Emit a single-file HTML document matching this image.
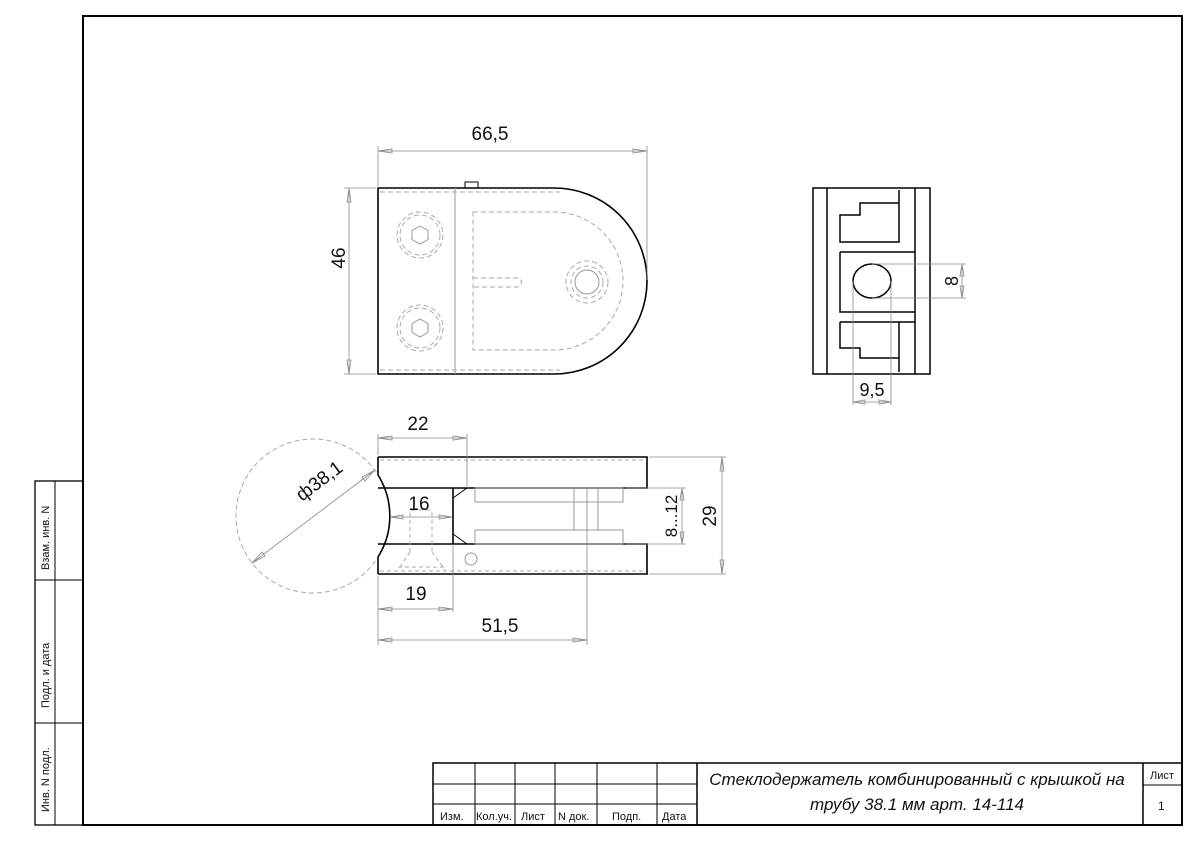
<!DOCTYPE html>
<html><head><meta charset="utf-8"><style>
html,body{margin:0;padding:0;background:#fff}
svg{display:block}
text{font-family:"Liberation Sans",sans-serif;fill:#111}
</style></head><body>
<svg width="1200" height="848" viewBox="0 0 1200 848" xmlns="http://www.w3.org/2000/svg">
<rect x="0" y="0" width="1200" height="848" fill="#fff"/>
<g fill="none" stroke="#000">
<rect x="83" y="16" width="1099" height="809" stroke-width="2"/>
<rect x="35" y="481" width="48" height="344" stroke-width="1.3"/>
<line x1="55" y1="481" x2="55" y2="825"/>
<line x1="35" y1="580" x2="83" y2="580"/>
<line x1="35" y1="723" x2="83" y2="723"/>
<!-- title block -->
<rect x="433" y="763" width="749" height="62" stroke-width="1.5"/>
<line x1="433" y1="784" x2="697" y2="784"/>
<line x1="433" y1="804" x2="697" y2="804"/>
<line x1="475" y1="763" x2="475" y2="825"/>
<line x1="515" y1="763" x2="515" y2="825"/>
<line x1="555" y1="763" x2="555" y2="825"/>
<line x1="597" y1="763" x2="597" y2="825"/>
<line x1="657" y1="763" x2="657" y2="825"/>
<line x1="697" y1="763" x2="697" y2="825" stroke-width="1.5"/>
<line x1="1143" y1="763" x2="1143" y2="825" stroke-width="1.5"/>
<line x1="1143" y1="785" x2="1182" y2="785"/>
</g>
<g font-size="11">
<text transform="translate(49,570) rotate(-90)">Взам. инв. N</text>
<text transform="translate(49,708) rotate(-90)">Подл. и дата</text>
<text transform="translate(49,812) rotate(-90)">Инв. N подл.</text>
<text x="440" y="820">Изм.</text>
<text x="476" y="820">Кол.уч.</text>
<text x="521" y="820">Лист</text>
<text x="558" y="820">N док.</text>
<text x="612" y="820">Подп.</text>
<text x="662" y="820">Дата</text>
<text x="1150" y="779">Лист</text>
<text x="1158" y="810" font-size="12">1</text>
</g>
<g font-size="17" font-style="italic" text-anchor="middle">
<text x="917" y="785">Стеклодержатель комбинированный с крышкой на</text>
<text x="917" y="810">трубу 38.1 мм арт. 14-114</text>
</g>

<!-- TOP VIEW -->
<g fill="none" stroke="#000" stroke-width="1.6">
<path d="M378,188 H554 A93,93 0 0 1 554,374 H378 Z"/>
<rect x="465" y="182" width="13" height="6" stroke-width="1"/>
</g>
<g fill="none" stroke="#999" stroke-width="1">
<line x1="455" y1="188" x2="455" y2="374"/>
<polygon points="420,226 428,230.5 428,239.5 420,244 412,239.5 412,230.5"/>
<polygon points="420,319 428,323.5 428,332.5 420,337 412,332.5 412,323.5"/>
<circle cx="587" cy="282" r="12"/>
</g>
<g fill="none" stroke="#aaa" stroke-width="1" stroke-dasharray="5,3">
<line x1="380" y1="192" x2="560" y2="192"/>
<line x1="380" y1="370" x2="560" y2="370"/>
<circle cx="420" cy="235" r="23"/><circle cx="420" cy="235" r="20"/>
<circle cx="420" cy="328" r="23"/><circle cx="420" cy="328" r="20"/>
<path d="M473,212 H554 A69,69 0 0 1 554,350 H473 Z"/>
<path d="M473,278 H517 A4.5,4.5 0 0 1 517,287 H473"/>
<circle cx="587" cy="282" r="16"/><circle cx="587" cy="282" r="21"/>
</g>
<!-- dims top -->
<g fill="none" stroke="#888" stroke-width="0.8">
<line x1="378" y1="186" x2="378" y2="146"/>
<line x1="647" y1="280" x2="647" y2="146"/>
<line x1="378" y1="151" x2="647" y2="151"/>
<polygon points="378,151 392,149 392,153"/><polygon points="647,151 633,149 633,153"/>
<line x1="376" y1="188" x2="344" y2="188"/>
<line x1="376" y1="374" x2="344" y2="374"/>
<line x1="349" y1="188" x2="349" y2="374"/>
<polygon points="349,188 347,202 351,202"/><polygon points="349,374 347,360 351,360"/>
</g>
<g font-size="19">
<text x="490" y="140" text-anchor="middle">66,5</text>
<text transform="translate(345,258) rotate(-90)" text-anchor="middle">46</text>
</g>

<!-- RIGHT VIEW -->
<g fill="none" stroke="#000" stroke-width="1.5">
<rect x="813" y="188" width="117" height="186"/>
<line x1="827" y1="188" x2="827" y2="374"/>
<line x1="915" y1="188" x2="915" y2="374"/>
<polyline points="899,190 899,242 840,242 840,215 860,215 860,203 899,203"/>
<polyline points="840,252 915,252"/>
<polyline points="840,252 840,312 915,312"/>
<polyline points="840,322 915,322"/>
<polyline points="899,322 899,372"/>
<polyline points="840,322 840,348 860,348 860,358 899,358"/>
<ellipse cx="872" cy="281" rx="19" ry="17"/>
</g>
<g fill="none" stroke="#888" stroke-width="0.8">
<line x1="872" y1="264" x2="966" y2="264"/>
<line x1="872" y1="298" x2="966" y2="298"/>
<line x1="962" y1="264" x2="962" y2="298"/>
<polygon points="962,264 960,276 964,276"/><polygon points="962,298 960,286 964,286"/>
<line x1="853" y1="281" x2="853" y2="405"/>
<line x1="891" y1="281" x2="891" y2="405"/>
<line x1="853" y1="402" x2="891" y2="402"/>
<polygon points="853,402 865,400 865,404"/><polygon points="891,402 879,400 879,404"/>
</g>
<g font-size="18">
<text transform="translate(958,281) rotate(-90)" text-anchor="middle">8</text>
<text x="872" y="396" text-anchor="middle">9,5</text>
</g>

<!-- BOTTOM VIEW -->
<circle cx="313" cy="516" r="77" fill="none" stroke="#aaa" stroke-dasharray="5,3"/>
<g fill="none" stroke="#000" stroke-width="1.6">
<path d="M378,457 H647 V488 H378"/>
<path d="M378,544 H647 V574 H378"/>
<path d="M378,457 V475 A77,77 0 0 1 378,557 V574"/>
<line x1="453" y1="488" x2="453" y2="544"/>
<line x1="453" y1="498" x2="467" y2="488" stroke-width="1"/>
<line x1="453" y1="534" x2="467" y2="544" stroke-width="1"/>
</g>
<g fill="none" stroke="#999" stroke-width="1">
<rect x="475" y="488" width="148" height="14"/>
<rect x="475" y="530" width="148" height="14"/>
<line x1="574" y1="488" x2="574" y2="530"/>
<line x1="598" y1="488" x2="598" y2="530"/>
<circle cx="471" cy="559" r="6"/>
</g>
<g fill="none" stroke="#aaa" stroke-width="1" stroke-dasharray="4,3">
<line x1="380" y1="460" x2="645" y2="460"/>
<line x1="380" y1="571" x2="645" y2="571"/>
<path d="M410,552 V514 Q410,510 414,510 H428 Q432,510 432,514 V552"/>
<line x1="410" y1="552" x2="398" y2="570"/>
<line x1="432" y1="552" x2="445" y2="570"/>
<line x1="398" y1="567" x2="445" y2="567"/>
</g>
<g fill="none" stroke="#888" stroke-width="0.8">
<line x1="378" y1="455" x2="378" y2="434"/>
<line x1="467" y1="488" x2="467" y2="434"/>
<line x1="378" y1="438" x2="467" y2="438"/>
<polygon points="378,438 392,436 392,440"/><polygon points="467,438 453,436 453,440"/>
<line x1="390" y1="517" x2="452" y2="517"/>
<polygon points="390,517 403,515 403,519"/><polygon points="452,517 439,515 439,519"/>
<line x1="378" y1="576" x2="378" y2="645"/>
<line x1="453" y1="544" x2="453" y2="612"/>
<line x1="378" y1="609" x2="453" y2="609"/>
<polygon points="378,609 392,607 392,611"/><polygon points="453,609 439,607 439,611"/>
<line x1="587" y1="488" x2="587" y2="645"/>
<line x1="378" y1="640" x2="587" y2="640"/>
<polygon points="378,640 392,638 392,642"/><polygon points="587,640 573,638 573,642"/>
<line x1="649" y1="457" x2="726" y2="457"/>
<line x1="649" y1="574" x2="726" y2="574"/>
<line x1="722" y1="457" x2="722" y2="574"/>
<polygon points="722,457 720,471 724,471"/><polygon points="722,574 720,560 724,560"/>
<line x1="625" y1="488" x2="686" y2="488"/>
<line x1="625" y1="544" x2="686" y2="544"/>
<line x1="682" y1="488" x2="682" y2="544"/>
<polygon points="682,488 680,500 684,500"/><polygon points="682,544 680,532 684,532"/>
<line x1="252" y1="563" x2="375" y2="470"/>
<polygon points="375,470 365,481 362,477"/><polygon points="252,563 262,552 265,556"/>
</g>
<g font-size="19">
<text x="418" y="430" text-anchor="middle">22</text>
<text x="419" y="510" text-anchor="middle">16</text>
<text x="416" y="600" text-anchor="middle">19</text>
<text x="500" y="632" text-anchor="middle">51,5</text>
<text transform="translate(716,516) rotate(-90)" text-anchor="middle">29</text>
<text transform="translate(677,516) rotate(-90)" text-anchor="middle" font-size="17">8...12</text>
<text transform="translate(323,486) rotate(-37)" text-anchor="middle">ф38,1</text>
</g>
</svg>
</body></html>
